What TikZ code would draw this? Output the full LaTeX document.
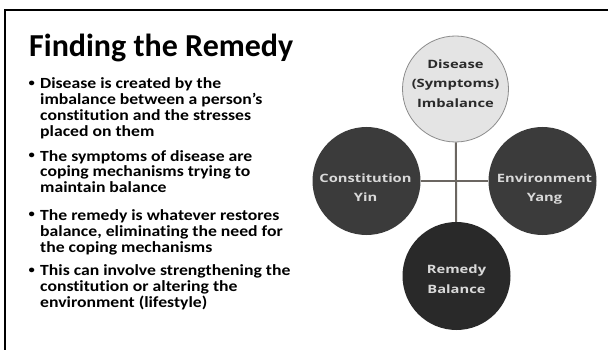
\documentclass[tikz,border=0pt]{standalone}
\usepackage{fontspec}
\setmainfont[RawFeature=-liga]{Carlito}
\newfontfamily\bodyfont[FakeStretch=1.14,RawFeature=-liga]{Carlito}
\newfontfamily\circfont[FakeStretch=1.28]{Open Sans}
\definecolor{lightfill}{HTML}{E4E4E4}
\definecolor{darkfill}{HTML}{3B3B3B}
\definecolor{darkerfill}{HTML}{292929}
\definecolor{lighttext}{HTML}{D9D9D9}
\definecolor{darktext}{HTML}{2A2A2A}
\definecolor{linkcol}{HTML}{6B6661}
\definecolor{ringcol}{HTML}{8C8C8C}
\tikzset{
  x=1pt, y=-1pt,
  bubble/.style={circle, inner sep=0pt, minimum size=108pt},
  bubbletext/.style={align=center, font=\circfont\bfseries\fontsize{11.5}{19.5}\selectfont},
  bullettext/.style={anchor=base west, inner sep=0pt, align=left, text=black,
    font=\bodyfont\bfseries\fontsize{15.5}{16}\selectfont},
  bulletmark/.style={anchor=base west, inner sep=0pt, text=black,
    font=\bodyfont\bfseries\fontsize{11}{16}\selectfont},
  link/.style={draw=linkcol, line width=2pt},
}
\begin{document}
\begin{tikzpicture}
\useasboundingbox (0,0) rectangle (608,350);
% slide frame
\draw[line width=2.5pt] (5,360) -- (5,10) -- (620,10);
% title
\node[anchor=base west, inner sep=0pt, font=\bfseries\fontsize{32}{36}\selectfont] (title) at (29,57) {Finding the Remedy};
% bullets (node base = baseline of last line)
\node[bulletmark] (m1) at (28.5,87) {•};
\node[bullettext] (b1) at (40,137) {Disease is created by the\\imbalance between a person’s\\constitution and the stresses\\placed on them};
\node[bulletmark] (m2) at (28.5,159) {•};
\node[bullettext] (b2) at (40,193) {The symptoms of disease are\\coping mechanisms trying to\\maintain balance};
\node[bulletmark] (m3) at (28.5,218) {•};
\node[bullettext] (b3) at (40,252) {The remedy is whatever restores\\balance, eliminating the need for\\the coping mechanisms};
\node[bulletmark] (m4) at (28.5,273) {•};
\node[bullettext] (b4) at (40,307) {This can involve strengthening the\\constitution or altering the\\environment (lifestyle)};
% circles
\node[bubble, fill=lightfill, draw=ringcol, line width=0.8pt, minimum size=106pt] (top) at (455.5,89) {};
\node[bubble, fill=darkfill] (left) at (366.5,181) {};
\node[bubble, fill=darkfill] (right) at (542.5,181) {};
\node[bubble, fill=darkerfill] (bot) at (456.5,276) {};
% connectors
\draw[link] (left) -- (right);
\draw[link] (top) -- (bot);
% circle texts
\node[bubbletext, text=darktext] (ttop) at (455.5,83.5) {Disease\\(Symptoms)\\Imbalance};
\node[bubbletext, text=lighttext] (tleft) at (365.5,187.5) {Constitution\\Yin};
\node[bubbletext, text=lighttext] (tright) at (544.5,189) {Environment\\Yang};
\node[bubbletext, text=lighttext] (tbot) at (456.5,279) {Remedy\\Balance};
\end{tikzpicture}
\end{document}
